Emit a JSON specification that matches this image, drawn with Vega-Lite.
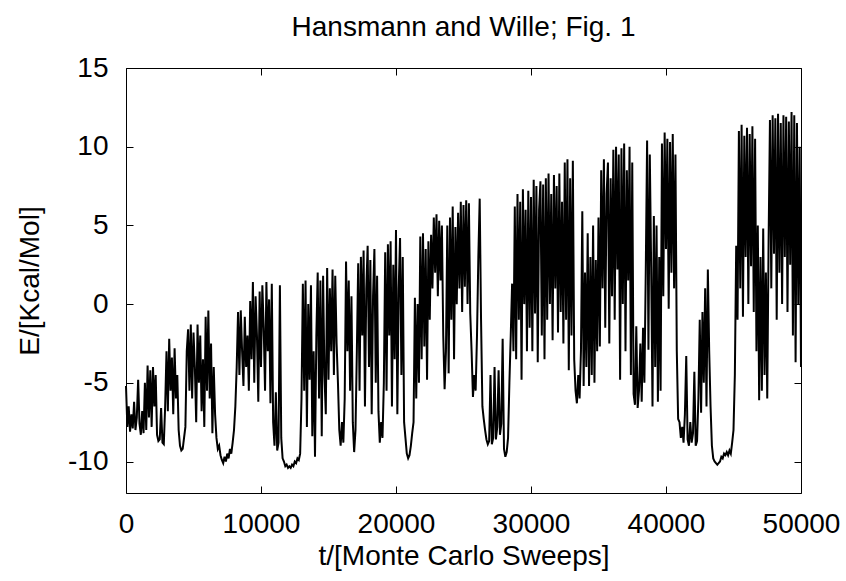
{
"$schema": "https://vega.github.io/schema/vega-lite/v6.json",
"width": 675, "height": 425,
"autosize": {"type": "none"},
"padding": {"left": 126, "top": 68, "right": 45, "bottom": 88},
"background": "white",
"title": {"text": "Hansmann and Wille; Fig. 1", "font": "Liberation Sans", "fontSize": 28, "fontWeight": "normal", "color": "black", "anchor": "middle", "frame": "group", "baseline": "alphabetic", "offset": 30, "dy": 40},
"config": {"view": {"stroke": null}, "axis": {"grid": false, "domainColor": "black", "tickColor": "black", "labelColor": "black", "titleColor": "black", "labelFont": "Liberation Sans", "titleFont": "Liberation Sans", "labelFontSize": 28, "titleFontSize": 28, "titleFontWeight": "normal", "tickSize": -7, "tickWidth": 1, "domainWidth": 1, "labelFlush": false}},
"data": {"values": [
{"t":0,"E":-5.2},{"t":100,"E":-7.8},{"t":200,"E":-6.5},{"t":300,"E":-8.1},{"t":400,"E":-7.0},{"t":500,"E":-7.9},{"t":600,"E":-6.2},{"t":700,"E":-8.0},{"t":800,"E":-7.2},{"t":900,"E":-4.8},
{"t":1000,"E":-7.6},{"t":1100,"E":-8.3},{"t":1200,"E":-6.8},{"t":1300,"E":-8.2},{"t":1400,"E":-5.0},{"t":1500,"E":-8.0},{"t":1600,"E":-3.9},{"t":1700,"E":-7.2},{"t":1800,"E":-4.2},{"t":1900,"E":-7.8},
{"t":2000,"E":-4.0},{"t":2100,"E":-6.5},{"t":2200,"E":-4.5},{"t":2300,"E":-8.3},{"t":2400,"E":-8.7},{"t":2500,"E":-8.6},{"t":2600,"E":-6.6},{"t":2700,"E":-8.8},{"t":2800,"E":-8.9},{"t":2900,"E":-6.5},
{"t":3000,"E":-3.0},{"t":3100,"E":-6.8},{"t":3200,"E":-2.2},{"t":3300,"E":-5.5},{"t":3400,"E":-3.4},{"t":3500,"E":-7.0},{"t":3600,"E":-2.8},{"t":3700,"E":-6.0},{"t":3800,"E":-4.5},{"t":3900,"E":-8.0},
{"t":4000,"E":-9.0},{"t":4100,"E":-9.3},{"t":4200,"E":-9.2},{"t":4300,"E":-8.5},{"t":4400,"E":-7.8},{"t":4500,"E":-3.0},{"t":4600,"E":-1.6},{"t":4700,"E":-5.5},{"t":4800,"E":-1.3},{"t":4900,"E":-6.0},
{"t":5000,"E":-1.8},{"t":5100,"E":-4.0},{"t":5200,"E":-7.5},{"t":5300,"E":-1.3},{"t":5400,"E":-5.0},{"t":5500,"E":-2.0},{"t":5600,"E":-6.8},{"t":5700,"E":-3.5},{"t":5800,"E":-7.8},{"t":5900,"E":-0.8},
{"t":6000,"E":-5.5},{"t":6100,"E":-0.4},{"t":6200,"E":-6.0},{"t":6300,"E":-2.5},{"t":6400,"E":-8.2},{"t":6500,"E":-4.0},{"t":6600,"E":-7.0},{"t":6700,"E":-8.5},{"t":6800,"E":-9.2},{"t":6900,"E":-9.0},
{"t":7000,"E":-9.6},{"t":7100,"E":-9.9},{"t":7200,"E":-10.1},{"t":7300,"E":-9.7},{"t":7400,"E":-10.0},{"t":7500,"E":-9.5},{"t":7600,"E":-9.8},{"t":7700,"E":-9.2},{"t":7800,"E":-9.5},{"t":7900,"E":-8.8},
{"t":8000,"E":-8.0},{"t":8100,"E":-6.5},{"t":8200,"E":-4.0},{"t":8300,"E":-0.5},{"t":8400,"E":-4.5},{"t":8500,"E":-0.4},{"t":8600,"E":-3.0},{"t":8700,"E":-5.2},{"t":8800,"E":-0.8},{"t":8900,"E":-4.0},
{"t":9000,"E":-2.0},{"t":9100,"E":-5.5},{"t":9200,"E":0.2},{"t":9300,"E":-3.5},{"t":9400,"E":1.4},{"t":9500,"E":-5.0},{"t":9600,"E":0.5},{"t":9700,"E":-2.0},{"t":9800,"E":-6.2},{"t":9900,"E":0.8},
{"t":10000,"E":-4.0},{"t":10100,"E":1.2},{"t":10200,"E":-1.5},{"t":10300,"E":-5.5},{"t":10400,"E":1.4},{"t":10500,"E":-3.0},{"t":10600,"E":0.3},{"t":10700,"E":-6.3},{"t":10800,"E":1.3},{"t":10900,"E":-7.5},
{"t":11000,"E":-9.0},{"t":11100,"E":-5.6},{"t":11200,"E":-9.3},{"t":11300,"E":-8.8},{"t":11400,"E":1.2},{"t":11500,"E":-8.5},{"t":11600,"E":-9.8},{"t":11700,"E":-10.0},{"t":11800,"E":-10.3},{"t":11900,"E":-10.2},
{"t":12000,"E":-10.4},{"t":12100,"E":-10.3},{"t":12200,"E":-10.4},{"t":12300,"E":-10.2},{"t":12400,"E":-10.3},{"t":12500,"E":-10.0},{"t":12600,"E":-10.1},{"t":12700,"E":-9.8},{"t":12800,"E":-9.9},{"t":12900,"E":-9.5},
{"t":13000,"E":-6.0},{"t":13100,"E":1.3},{"t":13200,"E":-5.5},{"t":13300,"E":1.5},{"t":13400,"E":-7.8},{"t":13500,"E":0.0},{"t":13600,"E":-4.8},{"t":13700,"E":1.2},{"t":13800,"E":-8.4},{"t":13900,"E":-3.0},
{"t":14000,"E":-9.7},{"t":14100,"E":-2.0},{"t":14200,"E":2.0},{"t":14300,"E":-6.0},{"t":14400,"E":1.5},{"t":14500,"E":-8.4},{"t":14600,"E":1.8},{"t":14700,"E":-4.5},{"t":14800,"E":-7.0},{"t":14900,"E":2.3},
{"t":15000,"E":-4.8},{"t":15100,"E":1.0},{"t":15200,"E":-3.0},{"t":15300,"E":2.2},{"t":15400,"E":-4.5},{"t":15500,"E":1.8},{"t":15600,"E":-2.5},{"t":15700,"E":-5.0},{"t":15800,"E":-8.0},{"t":15900,"E":-9.0},
{"t":16000,"E":-7.5},{"t":16100,"E":-8.8},{"t":16200,"E":-6.0},{"t":16300,"E":2.7},{"t":16400,"E":-3.0},{"t":16500,"E":1.5},{"t":16600,"E":-5.5},{"t":16700,"E":0.5},{"t":16800,"E":-7.5},{"t":16900,"E":-9.4},
{"t":17000,"E":-8.0},{"t":17100,"E":-3.0},{"t":17200,"E":2.6},{"t":17300,"E":-5.5},{"t":17400,"E":3.0},{"t":17500,"E":-2.0},{"t":17600,"E":3.4},{"t":17700,"E":-6.5},{"t":17800,"E":1.0},{"t":17900,"E":3.7},
{"t":18000,"E":-4.0},{"t":18100,"E":2.8},{"t":18200,"E":-7.0},{"t":18300,"E":0.5},{"t":18400,"E":3.5},{"t":18500,"E":-5.0},{"t":18600,"E":1.8},{"t":18700,"E":-6.8},{"t":18800,"E":-8.8},{"t":18900,"E":-7.5},
{"t":19000,"E":-8.5},{"t":19100,"E":-5.0},{"t":19200,"E":3.3},{"t":19300,"E":-5.5},{"t":19400,"E":3.8},{"t":19500,"E":-2.0},{"t":19600,"E":4.0},{"t":19700,"E":-6.5},{"t":19800,"E":2.5},{"t":19900,"E":-3.5},
{"t":20000,"E":4.7},{"t":20100,"E":-7.0},{"t":20200,"E":1.0},{"t":20300,"E":4.2},{"t":20400,"E":-4.5},{"t":20500,"E":3.0},{"t":20600,"E":-7.5},{"t":20700,"E":-8.5},{"t":20800,"E":-9.5},{"t":20900,"E":-9.8},
{"t":21000,"E":-9.6},{"t":21100,"E":-9.0},{"t":21200,"E":-8.2},{"t":21300,"E":-7.5},{"t":21400,"E":0.4},{"t":21500,"E":-6.0},{"t":21600,"E":0.0},{"t":21700,"E":-5.0},{"t":21800,"E":4.3},{"t":21900,"E":-3.5},
{"t":22000,"E":4.5},{"t":22100,"E":-2.7},{"t":22200,"E":3.5},{"t":22300,"E":-4.8},{"t":22400,"E":4.0},{"t":22500,"E":-1.0},{"t":22600,"E":4.4},{"t":22700,"E":1.0},{"t":22800,"E":5.5},{"t":22900,"E":2.0},
{"t":23000,"E":5.7},{"t":23100,"E":0.5},{"t":23200,"E":5.3},{"t":23300,"E":1.5},{"t":23400,"E":5.0},{"t":23500,"E":-2.0},{"t":23600,"E":-5.4},{"t":23700,"E":-3.0},{"t":23800,"E":5.0},{"t":23900,"E":-4.4},
{"t":24000,"E":5.5},{"t":24100,"E":-1.0},{"t":24200,"E":6.2},{"t":24300,"E":-3.5},{"t":24400,"E":4.9},{"t":24500,"E":0.0},{"t":24600,"E":5.8},{"t":24700,"E":1.0},{"t":24800,"E":6.5},{"t":24900,"E":-0.5},
{"t":25000,"E":6.3},{"t":25100,"E":1.1},{"t":25200,"E":6.6},{"t":25300,"E":0.0},{"t":25400,"E":6.4},{"t":25500,"E":-0.6},{"t":25600,"E":-3.0},{"t":25700,"E":-5.9},{"t":25800,"E":-4.5},{"t":25900,"E":-5.5},
{"t":26000,"E":-2.0},{"t":26100,"E":3.0},{"t":26200,"E":6.7},{"t":26300,"E":-1.0},{"t":26400,"E":-6.5},{"t":26500,"E":-7.3},{"t":26600,"E":-8.0},{"t":26700,"E":-8.6},{"t":26800,"E":-8.9},{"t":26900,"E":-8.7},
{"t":27000,"E":-4.5},{"t":27100,"E":-8.9},{"t":27200,"E":-8.5},{"t":27300,"E":-4.0},{"t":27400,"E":-8.6},{"t":27500,"E":-7.8},{"t":27600,"E":-4.2},{"t":27700,"E":-8.3},{"t":27800,"E":-7.6},{"t":27900,"E":-2.2},
{"t":28000,"E":-9.2},{"t":28100,"E":-9.7},{"t":28200,"E":-9.4},{"t":28300,"E":-8.5},{"t":28400,"E":-5.0},{"t":28500,"E":-2.0},{"t":28600,"E":1.3},{"t":28700,"E":-3.0},{"t":28800,"E":6.2},{"t":28900,"E":-3.5},
{"t":29000,"E":7.0},{"t":29100,"E":-1.0},{"t":29200,"E":6.5},{"t":29300,"E":-4.8},{"t":29400,"E":7.3},{"t":29500,"E":0.0},{"t":29600,"E":6.0},{"t":29700,"E":-3.0},{"t":29800,"E":7.2},{"t":29900,"E":-1.5},
{"t":30000,"E":6.8},{"t":30100,"E":-3.0},{"t":30200,"E":7.9},{"t":30300,"E":-0.6},{"t":30400,"E":7.5},{"t":30500,"E":-3.7},{"t":30600,"E":6.0},{"t":30700,"E":7.8},{"t":30800,"E":-2.0},{"t":30900,"E":7.6},
{"t":31000,"E":-3.5},{"t":31100,"E":8.0},{"t":31200,"E":-1.0},{"t":31300,"E":8.3},{"t":31400,"E":0.0},{"t":31500,"E":7.0},{"t":31600,"E":-2.3},{"t":31700,"E":8.2},{"t":31800,"E":1.0},{"t":31900,"E":7.5},
{"t":32000,"E":-1.8},{"t":32100,"E":8.3},{"t":32200,"E":-0.5},{"t":32300,"E":6.5},{"t":32400,"E":-2.5},{"t":32500,"E":9.0},{"t":32600,"E":-1.0},{"t":32700,"E":9.2},{"t":32800,"E":-4.2},{"t":32900,"E":8.0},
{"t":33000,"E":-2.0},{"t":33100,"E":9.1},{"t":33200,"E":-3.5},{"t":33300,"E":-5.5},{"t":33400,"E":-6.3},{"t":33500,"E":-4.5},{"t":33600,"E":-6.0},{"t":33700,"E":-3.0},{"t":33800,"E":5.9},{"t":33900,"E":-5.2},
{"t":34000,"E":2.0},{"t":34100,"E":-4.0},{"t":34200,"E":4.5},{"t":34300,"E":-5.2},{"t":34400,"E":3.0},{"t":34500,"E":-4.5},{"t":34600,"E":5.0},{"t":34700,"E":-5.0},{"t":34800,"E":2.8},{"t":34900,"E":-3.0},
{"t":35000,"E":5.5},{"t":35100,"E":-2.7},{"t":35200,"E":8.5},{"t":35300,"E":1.0},{"t":35400,"E":9.2},{"t":35500,"E":-1.5},{"t":35600,"E":7.0},{"t":35700,"E":9.0},{"t":35800,"E":-2.5},{"t":35900,"E":8.0},
{"t":36000,"E":0.5},{"t":36100,"E":9.8},{"t":36200,"E":-1.0},{"t":36300,"E":10.0},{"t":36400,"E":2.2},{"t":36500,"E":9.5},{"t":36600,"E":-4.8},{"t":36700,"E":9.9},{"t":36800,"E":0.0},{"t":36900,"E":10.2},
{"t":37000,"E":-3.0},{"t":37100,"E":8.5},{"t":37200,"E":1.5},{"t":37300,"E":10.0},{"t":37400,"E":-4.5},{"t":37500,"E":9.0},{"t":37600,"E":-5.7},{"t":37700,"E":-6.4},{"t":37800,"E":-1.4},{"t":37900,"E":-6.6},
{"t":38000,"E":-5.5},{"t":38100,"E":-2.5},{"t":38200,"E":-6.2},{"t":38300,"E":-1.5},{"t":38400,"E":-5.0},{"t":38500,"E":2.0},{"t":38600,"E":10.4},{"t":38700,"E":-2.9},{"t":38800,"E":9.5},{"t":38900,"E":2.4},
{"t":39000,"E":-6.5},{"t":39100,"E":5.6},{"t":39200,"E":-4.0},{"t":39300,"E":5.0},{"t":39400,"E":-6.2},{"t":39500,"E":3.0},{"t":39600,"E":-5.5},{"t":39700,"E":10.2},{"t":39800,"E":0.5},{"t":39900,"E":10.9},
{"t":40000,"E":3.5},{"t":40100,"E":10.5},{"t":40200,"E":-0.3},{"t":40300,"E":10.3},{"t":40400,"E":2.0},{"t":40500,"E":10.8},{"t":40600,"E":1.0},{"t":40700,"E":9.5},{"t":40800,"E":-3.0},{"t":40900,"E":-7.3},
{"t":41000,"E":-7.5},{"t":41100,"E":-8.5},{"t":41200,"E":-7.8},{"t":41300,"E":-8.8},{"t":41400,"E":-7.0},{"t":41500,"E":-3.3},{"t":41600,"E":-8.6},{"t":41700,"E":-9.0},{"t":41800,"E":-7.5},{"t":41900,"E":-8.8},
{"t":42000,"E":-8.2},{"t":42100,"E":-4.3},{"t":42200,"E":-9.0},{"t":42300,"E":-8.7},{"t":42400,"E":-6.0},{"t":42500,"E":-1.0},{"t":42600,"E":-6.9},{"t":42700,"E":-0.5},{"t":42800,"E":-5.0},{"t":42900,"E":1.0},
{"t":43000,"E":-6.5},{"t":43100,"E":2.2},{"t":43200,"E":-3.0},{"t":43300,"E":-6.5},{"t":43400,"E":-9.0},{"t":43500,"E":-9.8},{"t":43600,"E":-10.0},{"t":43700,"E":-10.1},{"t":43800,"E":-10.2},{"t":43900,"E":-10.1},
{"t":44000,"E":-10.0},{"t":44100,"E":-9.7},{"t":44200,"E":-9.8},{"t":44300,"E":-9.5},{"t":44400,"E":-9.6},{"t":44500,"E":-9.4},{"t":44600,"E":-9.6},{"t":44700,"E":-9.3},{"t":44800,"E":-9.5},{"t":44900,"E":-8.8},
{"t":45000,"E":-8.0},{"t":45100,"E":-4.5},{"t":45200,"E":3.7},{"t":45300,"E":-1.0},{"t":45400,"E":11.0},{"t":45500,"E":1.0},{"t":45600,"E":11.4},{"t":45700,"E":-0.8},{"t":45800,"E":10.7},{"t":45900,"E":3.0},
{"t":46000,"E":11.2},{"t":46100,"E":0.0},{"t":46200,"E":10.8},{"t":46300,"E":2.4},{"t":46400,"E":11.3},{"t":46500,"E":-0.5},{"t":46600,"E":10.5},{"t":46700,"E":-3.0},{"t":46800,"E":5.0},{"t":46900,"E":-6.1},
{"t":47000,"E":3.0},{"t":47100,"E":-5.5},{"t":47200,"E":4.8},{"t":47300,"E":-4.5},{"t":47400,"E":2.0},{"t":47500,"E":-6.0},{"t":47600,"E":4.0},{"t":47700,"E":11.7},{"t":47800,"E":1.0},{"t":47900,"E":12.0},
{"t":48000,"E":3.2},{"t":48100,"E":11.8},{"t":48200,"E":-1.0},{"t":48300,"E":12.1},{"t":48400,"E":2.0},{"t":48500,"E":11.5},{"t":48600,"E":0.0},{"t":48700,"E":12.0},{"t":48800,"E":3.0},{"t":48900,"E":11.9},
{"t":49000,"E":-0.5},{"t":49100,"E":11.6},{"t":49200,"E":2.5},{"t":49300,"E":12.2},{"t":49400,"E":-2.0},{"t":49500,"E":12.0},{"t":49600,"E":-3.7},{"t":49700,"E":11.5},{"t":49800,"E":0.0},{"t":49900,"E":10.0},
{"t":50000,"E":-4.0}
]},
"layer": [
{"mark": {"type": "line", "color": "black", "strokeWidth": 2},
 "encoding": {
  "x": {"field": "t", "type": "quantitative", "scale": {"domain": [0, 50000], "nice": false}, "axis": {"orient": "bottom", "values": [0, 10000, 20000, 30000, 40000, 50000], "format": "d", "labelPadding": 24, "title": "t/[Monte Carlo Sweeps]", "titlePadding": 4}},
  "y": {"field": "E", "type": "quantitative", "scale": {"domain": [-12, 15], "nice": false}, "axis": {"orient": "left", "values": [-10, -5, 0, 5, 10, 15], "labelExpr": "datum.value < 0 ? '-' + abs(datum.value) : '' + datum.value", "labelPadding": 25, "title": "E/[Kcal/Mol]", "titlePadding": 23}}
 }},
{"mark": {"type": "line", "strokeOpacity": 0},
 "encoding": {
  "x": {"field": "t", "type": "quantitative", "axis": {"orient": "top", "values": [0, 10000, 20000, 30000, 40000, 50000], "labels": false, "title": null}},
  "y": {"field": "E", "type": "quantitative", "axis": {"orient": "right", "values": [-10, -5, 0, 5, 10, 15], "labels": false, "title": null}}
 }}
],
"resolve": {"axis": {"x": "independent", "y": "independent"}}
}
